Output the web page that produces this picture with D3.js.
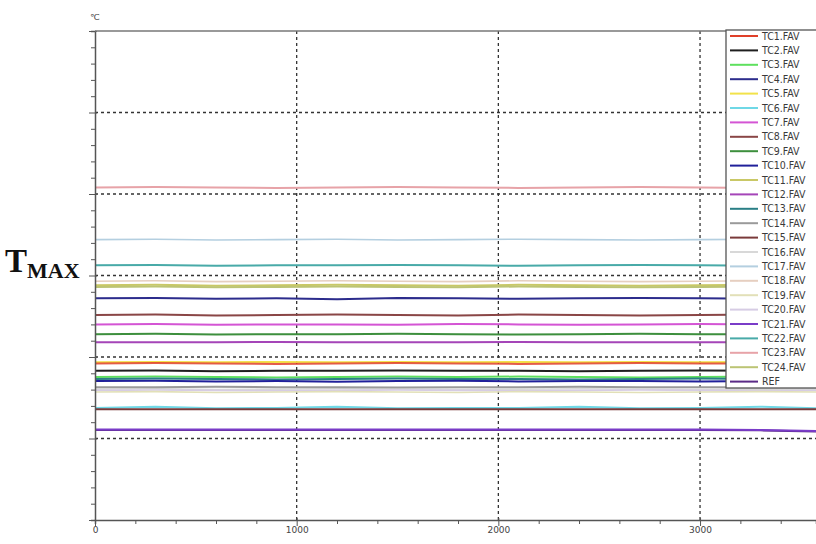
<!DOCTYPE html>
<html><head><meta charset="utf-8">
<script src="https://cdn.jsdelivr.net/npm/d3@7"></script>
<style>body{margin:0;background:#fff}svg{display:block}</style>
</head><body>
<svg id="c" width="816" height="544"></svg>
<script>
// time samples (s)
const times = [0,300,600,900,1200,1500,1800,2100,2400,2700,3000,3300,3600];
const seriesNames = ["TC1.FAV","TC2.FAV","TC3.FAV","TC4.FAV","TC5.FAV","TC6.FAV","TC7.FAV","TC8.FAV","TC9.FAV","TC10.FAV","TC11.FAV","TC12.FAV","TC13.FAV","TC14.FAV","TC15.FAV","TC16.FAV","TC17.FAV","TC18.FAV","TC19.FAV","TC20.FAV","TC21.FAV","TC22.FAV","TC23.FAV","TC24.FAV","REF"];
const seriesColors = ["#e0402a","#1e1e1e","#5ee05e","#2c2c8c","#f2e24a","#6fd8e6","#d455d4","#8a4646","#3d8f3d","#20209a","#c9c866","#a545b8","#2a7f86","#9a9a9a","#7a3a3a","#d8d8d8","#b4cfe0","#e6cfc0","#e2e0b8","#d6cce4","#7a3cc8","#48aaa8","#e7a3a8","#bcc474","#5a2a86"];
const seriesValues = [
 [19.2,19.25,19.2,19.15,19.2,19.25,19.2,19.15,19.2,19.25,19.2,19.2,19.2],   // TC1
 [18.3,18.35,18.25,18.3,18.3,18.35,18.3,18.3,18.25,18.3,18.35,18.3,18.3],   // TC2
 [17.55,17.6,17.55,17.5,17.55,17.6,17.55,17.6,17.55,17.5,17.55,17.6,17.55], // TC3
 [27.2,27.25,27.15,27.2,27.1,27.25,27.2,27.15,27.2,27.25,27.2,27.15,27.2],  // TC4
 [19.35,19.4,19.35,19.4,19.35,19.4,19.35,19.4,19.35,19.4,19.35,19.4,19.35], // TC5
 [13.75,13.9,13.7,13.75,13.9,13.7,13.75,13.75,13.9,13.7,13.75,13.9,13.7],   // TC6
 [24.0,24.05,23.95,24.0,24.0,23.95,24.05,24.0,23.95,24.0,24.05,24.0,24.0],  // TC7
 [25.15,25.2,25.1,25.15,25.2,25.15,25.1,25.2,25.15,25.1,25.15,25.2,25.15],  // TC8
 [22.8,22.85,22.75,22.8,22.8,22.85,22.8,22.75,22.8,22.85,22.8,22.8,22.8],   // TC9
 [17.05,17.1,17.0,17.05,16.95,17.05,17.1,17.0,17.05,17.05,17.0,17.05,17.05],// TC10
 [28.8,28.85,28.75,28.8,28.85,28.8,28.75,28.85,28.8,28.75,28.8,28.85,28.8], // TC11
 [21.8,21.8,21.8,21.85,21.8,21.8,21.8,21.85,21.8,21.8,21.8,21.8,21.8],      // TC12
 [17.3,17.35,17.3,17.25,17.3,17.35,17.3,17.3,17.25,17.3,17.35,17.3,17.3],   // TC13
 [16.3,16.3,16.35,16.3,16.3,16.25,16.3,16.3,16.35,16.3,16.3,16.3,16.3],     // TC14
 [13.6,13.6,13.6,13.6,13.6,13.6,13.6,13.6,13.6,13.6,13.6,13.6,13.6],        // TC15
 [16.05,16.1,16.0,16.05,16.1,16.05,16.0,16.05,16.1,16.05,16.0,16.05,16.05], // TC16
 [34.4,34.45,34.35,34.4,34.45,34.35,34.4,34.45,34.4,34.35,34.4,34.45,34.4], // TC17
 [29.3,29.35,29.25,29.3,29.35,29.3,29.25,29.35,29.3,29.25,29.3,29.35,29.3], // TC18
 [15.7,15.75,15.65,15.7,15.75,15.7,15.65,15.75,15.7,15.65,15.7,15.75,15.7], // TC19
 [15.9,15.95,15.9,15.85,15.9,15.95,15.9,15.85,15.9,15.95,15.9,15.85,15.9],  // TC20
 [11.1,11.1,11.1,11.1,11.1,11.1,11.1,11.1,11.1,11.1,11.1,11.05,10.9],       // TC21
 [31.25,31.3,31.2,31.25,31.25,31.3,31.25,31.2,31.25,31.3,31.25,31.2,31.25], // TC22
 [40.8,40.85,40.8,40.75,40.8,40.85,40.8,40.75,40.8,40.85,40.8,40.75,40.8],  // TC23
 [28.6,28.65,28.55,28.6,28.65,28.6,28.55,28.65,28.6,28.55,28.6,28.65,28.6], // TC24
 [11.05,11.05,11.05,11.05,11.05,11.05,11.05,11.05,11.05,11.05,11.05,11.0,10.85] // REF
];
const xTickLabels = [0,1000,2000,3000];
const yMajor = [0,10,20,30,40,50,60];

const svg = d3.select("#c");
const x = d3.scaleLinear().domain([0,3575]).range([95,816]);
const y = d3.scaleLinear().domain([0,60]).range([520,31]);

svg.append("defs").append("clipPath").attr("id","pc")
  .append("rect").attr("x",95).attr("y",31).attr("width",721).attr("height",489);

// grid
const grid = svg.append("g");
grid.selectAll("line.h").data(yMajor.filter(v=>v>0&&v<60)).join("line")
  .attr("x1",95).attr("x2",816).attr("y1",d=>y(d)).attr("y2",d=>y(d))
  .attr("stroke","#333").attr("stroke-width",1.3).attr("stroke-dasharray","3,3");
grid.selectAll("line.v").data(xTickLabels.filter(v=>v>0)).join("line")
  .attr("x1",d=>x(d)).attr("x2",d=>x(d)).attr("y1",31).attr("y2",520)
  .attr("stroke","#333").attr("stroke-width",1.3).attr("stroke-dasharray","3,3");

// series
const line = d3.line().x((d,i)=>x(times[i])).y(d=>y(d));
const widths = seriesColors.map((c,i)=>[15,16,17,18,19].includes(i)?1.6:2);
const drawOrder = [22,16,21,17,10,23,3,7,6,8,11,4,0,1,2,12,9,15,19,13,18,5,14,24,20];
const lg = svg.append("g").attr("clip-path","url(#pc)");
drawOrder.forEach(i=>{
  lg.append("path").datum(seriesValues[i]).attr("d",line)
    .attr("fill","none").attr("stroke",seriesColors[i])
    .attr("stroke-width",widths[i]).attr("opacity", i===0?0.85:1);
});

// axes
const yAxis = svg.append("g").attr("transform","translate(95,0)")
  .call(d3.axisLeft(y).tickValues(d3.range(0,61,2)).tickSize(4).tickFormat(""));
yAxis.selectAll(".tick line").attr("x1",d=>d%10===0?-6:-4).attr("x2",d=>d%10===0?2:0);
const xAxis = svg.append("g").attr("transform","translate(0,520)")
  .call(d3.axisBottom(x).tickValues(d3.range(0,3601,200)).tickSize(4)
    .tickFormat(d=>xTickLabels.includes(d)?d:""));
xAxis.selectAll(".tick line").attr("y1",d=>d%1000===0?-2:0).attr("y2",d=>d%1000===0?6:4);
[yAxis,xAxis].forEach(a=>{
  a.select(".domain").attr("stroke","#555").attr("stroke-width",1.5);
  a.selectAll(".tick line").attr("stroke","#555");
  a.selectAll("text").attr("font-family","DejaVu Sans").attr("font-size",9).attr("fill","#444");
});
xAxis.selectAll("text").attr("y",6).attr("dy","0.8em");
svg.append("line").attr("x1",95).attr("x2",816).attr("y1",31).attr("y2",31)
  .attr("stroke","#777").attr("stroke-width",1.5);
svg.append("text").attr("x",90).attr("y",20).text("℃")
  .attr("font-family","DejaVu Sans").attr("font-size",8.5).attr("fill","#444");

// legend
const leg = svg.append("g");
leg.append("rect").attr("x",726).attr("y",30).attr("width",100).attr("height",358)
  .attr("fill","#fff").attr("stroke","#555").attr("stroke-width",1.3);
seriesNames.forEach((n,i)=>{
  const yy = 36 + i*14.4;
  leg.append("line").attr("x1",730).attr("x2",758).attr("y1",yy).attr("y2",yy)
    .attr("stroke",seriesColors[i]).attr("stroke-width",2);
  leg.append("text").attr("x",762).attr("y",yy+3.6).text(n)
    .attr("font-family","DejaVu Sans Condensed, DejaVu Sans").attr("font-size",10.5).attr("fill","#3a3a3a");
});

// T_MAX annotation
const tm = svg.append("text").attr("x",5).attr("y",272)
  .attr("font-family","Liberation Serif").attr("font-weight","bold").attr("fill","#111");
tm.append("tspan").attr("font-size",33).text("T");
tm.append("tspan").attr("font-size",22).attr("dy",6).text("MAX");
</script>
</body></html>
